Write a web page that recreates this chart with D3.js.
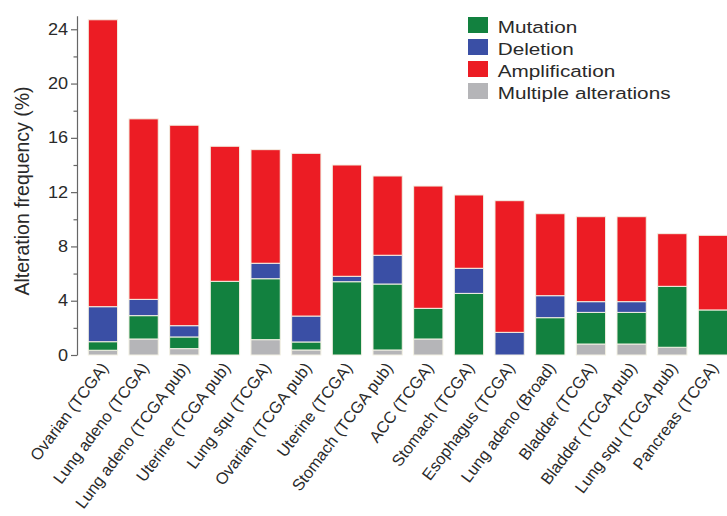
<!DOCTYPE html>
<html>
<head>
<meta charset="utf-8">
<script src="https://cdn.jsdelivr.net/npm/d3@7"></script>
<style>
  html, body { margin: 0; padding: 0; background: #fff; }
  svg { display: block; font-family: "Liberation Sans", Arial, Helvetica, sans-serif; }
</style>
</head>
<body>
<svg id="chart" width="727" height="516"></svg>
<script>
// Cancer studies, ordered by total alteration frequency
const categories = [
  "Ovarian (TCGA)", "Lung adeno (TCGA)", "Lung adeno (TCGA pub)", "Uterine (TCGA pub)",
  "Lung squ (TCGA)", "Ovarian (TCGA pub)", "Uterine (TCGA)", "Stomach (TCGA pub)",
  "ACC (TCGA)", "Stomach (TCGA)", "Esophagus (TCGA)", "Lung adeno (Broad)",
  "Bladder (TCGA)", "Bladder (TCGA pub)", "Lung squ (TCGA pub)", "Pancreas (TCGA)"
];

// Alteration frequency (%) per type
const multiple      = [0.35, 1.18, 0.47, 0, 1.13, 0.37, 0, 0.37, 1.18, 0, 0, 0, 0.81, 0.81, 0.57, 0];
const mutation      = [0.63, 1.72, 0.86, 5.43, 4.49, 0.59, 5.40, 4.86, 2.26, 4.54, 0, 2.75, 2.33, 2.33, 4.49, 3.32];
const deletion      = [2.58, 1.20, 0.83, 0, 1.14, 1.91, 0.40, 2.12, 0, 1.85, 1.67, 1.62, 0.79, 0.79, 0, 0];
const amplification = [21.14, 13.30, 14.77, 9.95, 8.37, 11.99, 8.20, 5.84, 9.01, 5.40, 9.70, 6.04, 6.26, 6.26, 3.88, 5.50];

const majorTicks = [0, 4, 8, 12, 16, 20, 24];
const minorTicks = [2, 6, 10, 14, 18, 22];

// Stacking order from the baseline up
const stackKeys = ["multiple", "mutation", "deletion", "amplification"];
const legendKeys = ["mutation", "deletion", "amplification", "multiple"];
const legendNames = {
  mutation: "Mutation",
  deletion: "Deletion",
  amplification: "Amplification",
  multiple: "Multiple alterations"
};
const colors = {
  mutation: "#12813f",
  deletion: "#3a4fa5",
  amplification: "#ec1c24",
  multiple: "#b5b5b8"
};

const rows = categories.map((c, i) => ({
  category: c,
  multiple: multiple[i],
  mutation: mutation[i],
  deletion: deletion[i],
  amplification: amplification[i]
}));

const svg = d3.select("#chart");

const x = d3.scaleBand()
  .domain(categories)
  .range([82.6, 733.3])
  .paddingInner(0.28)
  .paddingOuter(0.14);

const y = d3.scaleLinear()
  .domain([0, 25])
  .range([355, 15.7]);

const series = d3.stack().keys(stackKeys)(rows);

// Bars
svg.append("g")
  .selectAll("g")
  .data(series)
  .join("g")
    .attr("fill", d => colors[d.key])
  .selectAll("rect")
  .data(d => d.filter(s => s[1] - s[0] > 0))
  .join("rect")
    .attr("x", d => x(d.data.category))
    .attr("width", x.bandwidth())
    .attr("y", d => y(d[1]))
    .attr("height", d => y(d[0]) - y(d[1]))
    .attr("stroke", "#f3f1e4")
    .attr("stroke-width", 1);

// Y axis: major ticks with labels
const axisX = 77;
const yAxis = svg.append("g")
  .attr("transform", `translate(${axisX},0)`)
  .call(d3.axisLeft(y).tickValues(majorTicks).tickSize(6).tickSizeOuter(0).tickPadding(9));

yAxis.select(".domain").attr("stroke", "#666").attr("stroke-width", 1.2);
yAxis.selectAll(".tick line").attr("stroke", "#666").attr("stroke-width", 1.2);
yAxis.selectAll(".tick text")
  .attr("fill", "#2a2a2a")
  .attr("font-size", 16)
  .attr("font-family", "'Liberation Sans', Arial, sans-serif")
  .attr("x", 0)
  .attr("transform", "translate(-9,0) scale(1.13,1)");

// Y axis: minor ticks
const yMinor = svg.append("g")
  .attr("transform", `translate(${axisX},0)`)
  .call(d3.axisLeft(y).tickValues(minorTicks).tickSize(3.5).tickSizeOuter(0).tickFormat(""));
yMinor.select(".domain").remove();
yMinor.selectAll(".tick line").attr("stroke", "#666").attr("stroke-width", 1.2);

// Y axis title
svg.append("text")
  .attr("transform", `translate(29,${(85 + 297) / 2}) rotate(-90)`)
  .attr("text-anchor", "middle")
  .attr("font-size", 19.5)
  .attr("fill", "#2a2a2a")
  .text("Alteration frequency (%)");

// Category labels
svg.append("g")
  .selectAll("text")
  .data(categories)
  .join("text")
    .attr("transform", d => `translate(${x(d) + x.bandwidth() / 2 + 6},368) rotate(-53)`)
    .attr("text-anchor", "end")
    .attr("font-size", 16.3)
    .attr("fill", "#2a2a2a")
    .text(d => d);

// Legend
const legend = svg.append("g").attr("transform", "translate(468,17)");
const item = legend.selectAll("g")
  .data(legendKeys)
  .join("g")
    .attr("transform", (d, i) => `translate(0,${i * 22})`);
item.append("rect")
  .attr("width", 20)
  .attr("height", 16)
  .attr("fill", d => colors[d]);
item.append("text")
  .attr("transform", "translate(29.7,16) scale(1.22,1)")
  .attr("font-size", 17)
  .attr("fill", "#2a2a2a")
  .text(d => legendNames[d]);
</script>
</body>
</html>
